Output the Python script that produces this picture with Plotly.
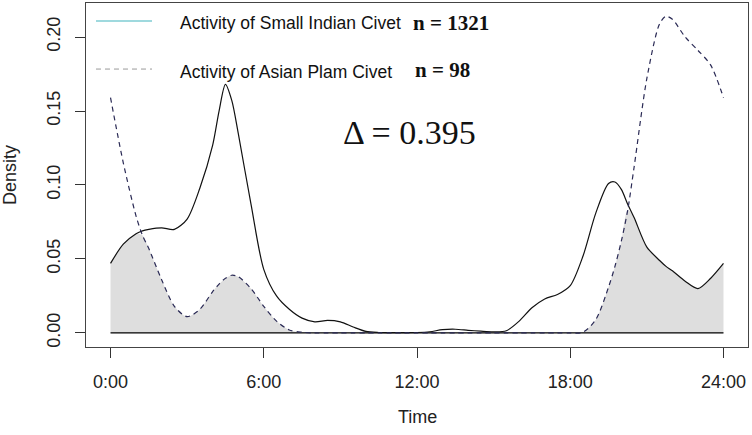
import numpy as np
import plotly.graph_objects as go

# Time of day (hours) at which both density curves were read
hours = [0, 0.5, 1, 1.25, 1.5, 2, 2.5, 3, 3.5, 4, 4.25, 4.5, 4.75, 5, 5.5, 6, 6.5, 7, 7.5,
         8, 8.5, 9, 9.5, 10, 10.5, 11, 11.5, 12, 12.5, 13, 13.5, 14, 14.5, 15, 15.5, 16,
         16.5, 17, 17.5, 18, 18.5, 19, 19.5, 19.75, 20, 20.25, 20.5, 21, 21.5, 21.75, 22,
         22.5, 23, 23.5, 24]

# Activity density of Small Indian Civet (solid)
small_indian = [0.047, 0.060, 0.067, 0.069, 0.070, 0.071, 0.070, 0.077, 0.098, 0.127, 0.150,
                0.168, 0.157, 0.135, 0.087, 0.043, 0.025, 0.016, 0.010,
                0.0075, 0.0085, 0.0075, 0.004, 0.001, 0.0003, 0.0002, 0.0002, 0.0003, 0.0008,
                0.0022, 0.0025, 0.0018, 0.0012, 0.0008, 0.0015, 0.008,
                0.017, 0.023, 0.026, 0.032, 0.052, 0.081, 0.101, 0.102, 0.097, 0.087, 0.078,
                0.058, 0.049, 0.045, 0.042, 0.035, 0.030, 0.037, 0.047]

# Activity density of Asian Palm Civet (dashed)
asian_palm = [0.159, 0.115, 0.079, 0.066, 0.057, 0.036, 0.018, 0.011, 0.016, 0.028, 0.033,
              0.037, 0.039, 0.038, 0.030, 0.018, 0.008, 0.002, 0.0005,
              0, 0, 0, 0, 0, 0, 0, 0, 0, 0,
              0, 0, 0, 0, 0, 0, 0,
              0, 0, 0, 0, 0.0005, 0.009, 0.031, 0.045, 0.062, 0.083, 0.112,
              0.172, 0.209, 0.214, 0.212, 0.200, 0.191, 0.181, 0.159]

tick_hours = [0, 6, 12, 18, 24]
tick_labels = ["0:00", "6:00", "12:00", "18:00", "24:00"]
density_ticks = [0.00, 0.05, 0.10, 0.15, 0.20]
density_labels = ["0.00", "0.05", "0.10", "0.15", "0.20"]

legend_names = ["Activity of Small Indian Civet", "Activity of Asian Plam Civet"]
legend_n = ["n = 1321", "n = 98"]
overlap_text = "\u0394 = 0.395"

SANS = "Liberation Sans, Arial, sans-serif"
SERIF = "Liberation Serif, Times New Roman, serif"

overlap = np.minimum(np.array(small_indian), np.array(asian_palm))

fig = go.Figure()
fig.add_trace(go.Scatter(x=hours, y=overlap, mode="lines", fill="tozeroy",
                         fillcolor="#dedede", line=dict(width=0, shape="spline", smoothing=0.8),
                         hoverinfo="skip", showlegend=False))
fig.add_trace(go.Scatter(x=[hours[0], hours[-1]], y=[0, 0], mode="lines",
                         line=dict(color="black", width=1.2), showlegend=False))
fig.add_trace(go.Scatter(x=hours, y=small_indian, mode="lines", name=legend_names[0],
                         line=dict(color="#111111", width=1.2, shape="spline", smoothing=0.8),
                         showlegend=False))
fig.add_trace(go.Scatter(x=hours, y=asian_palm, mode="lines", name=legend_names[1],
                         line=dict(color="#2a2a55", width=1.2, dash="5px,4px",
                                   shape="spline", smoothing=0.8),
                         showlegend=False))

# legend keys (R-style legend inside plot)
fig.add_shape(type="line", xref="paper", yref="paper", x0=0.0151, x1=0.0997, y0=0.948, y1=0.948,
              line=dict(color="#9fd9de", width=2))
fig.add_shape(type="line", xref="paper", yref="paper", x0=0.0151, x1=0.0997, y0=0.808, y1=0.808,
              line=dict(color="#999999", width=1, dash="5px,4px"))
fig.add_annotation(xref="paper", yref="paper", x=0.139, y=0.942, xanchor="left", yanchor="middle",
                   text=legend_names[0], showarrow=False, font=dict(family=SANS, size=17.5, color="#111"))
fig.add_annotation(xref="paper", yref="paper", x=0.139, y=0.800, xanchor="left", yanchor="middle",
                   text=legend_names[1], showarrow=False, font=dict(family=SANS, size=17.5, color="#111"))
fig.add_annotation(xref="paper", yref="paper", x=0.491, y=0.942, xanchor="left", yanchor="middle",
                   text="<b>" + legend_n[0] + "</b>", showarrow=False,
                   font=dict(family=SERIF, size=21, color="#111"))
fig.add_annotation(xref="paper", yref="paper", x=0.494, y=0.805, xanchor="left", yanchor="middle",
                   text="<b>" + legend_n[1] + "</b>", showarrow=False,
                   font=dict(family=SERIF, size=21, color="#111"))
fig.add_annotation(xref="paper", yref="paper", x=0.489, y=0.625, xanchor="center", yanchor="middle",
                   text=overlap_text, showarrow=False, font=dict(family=SERIF, size=34, color="#111"))

# axis titles
fig.add_annotation(xref="paper", yref="paper", x=0.5, y=-0.2035, xanchor="center", yanchor="middle",
                   text="Time", showarrow=False, font=dict(family=SANS, size=18, color="#222"))
fig.add_annotation(xref="paper", yref="paper", x=-0.1148, y=0.5, xanchor="center", yanchor="middle",
                   text="Density", textangle=-90, showarrow=False,
                   font=dict(family=SANS, size=18, color="#222"))

fig.update_layout(
    width=752, height=435, autosize=False,
    margin=dict(l=86, r=4, t=3, b=88, autoexpand=False),
    paper_bgcolor="white", plot_bgcolor="white",
    xaxis=dict(range=[-0.96, 24.96], tickvals=tick_hours, ticktext=tick_labels,
               ticks="outside", ticklen=10, tickcolor="#333", tickwidth=1,
               showline=True, mirror=True, linecolor="#444", linewidth=1.2,
               showgrid=False, zeroline=False, ticklabelstandoff=8, automargin=False,
               tickfont=dict(family=SANS, size=18, color="#222")),
    yaxis=dict(range=[-0.0095, 0.223], tickvals=density_ticks, ticktext=density_labels,
               tickangle=-90, ticks="outside", ticklen=10, tickcolor="#333", tickwidth=1,
               showline=True, mirror=True, linecolor="#444", linewidth=1.2,
               showgrid=False, zeroline=False, ticklabelstandoff=8, automargin=False,
               tickfont=dict(family=SANS, size=18, color="#222")),
)

fig.write_html("out.html", config={"displayModeBar": False},
               post_script="document.body.style.margin='0';document.body.style.overflow='hidden';")
